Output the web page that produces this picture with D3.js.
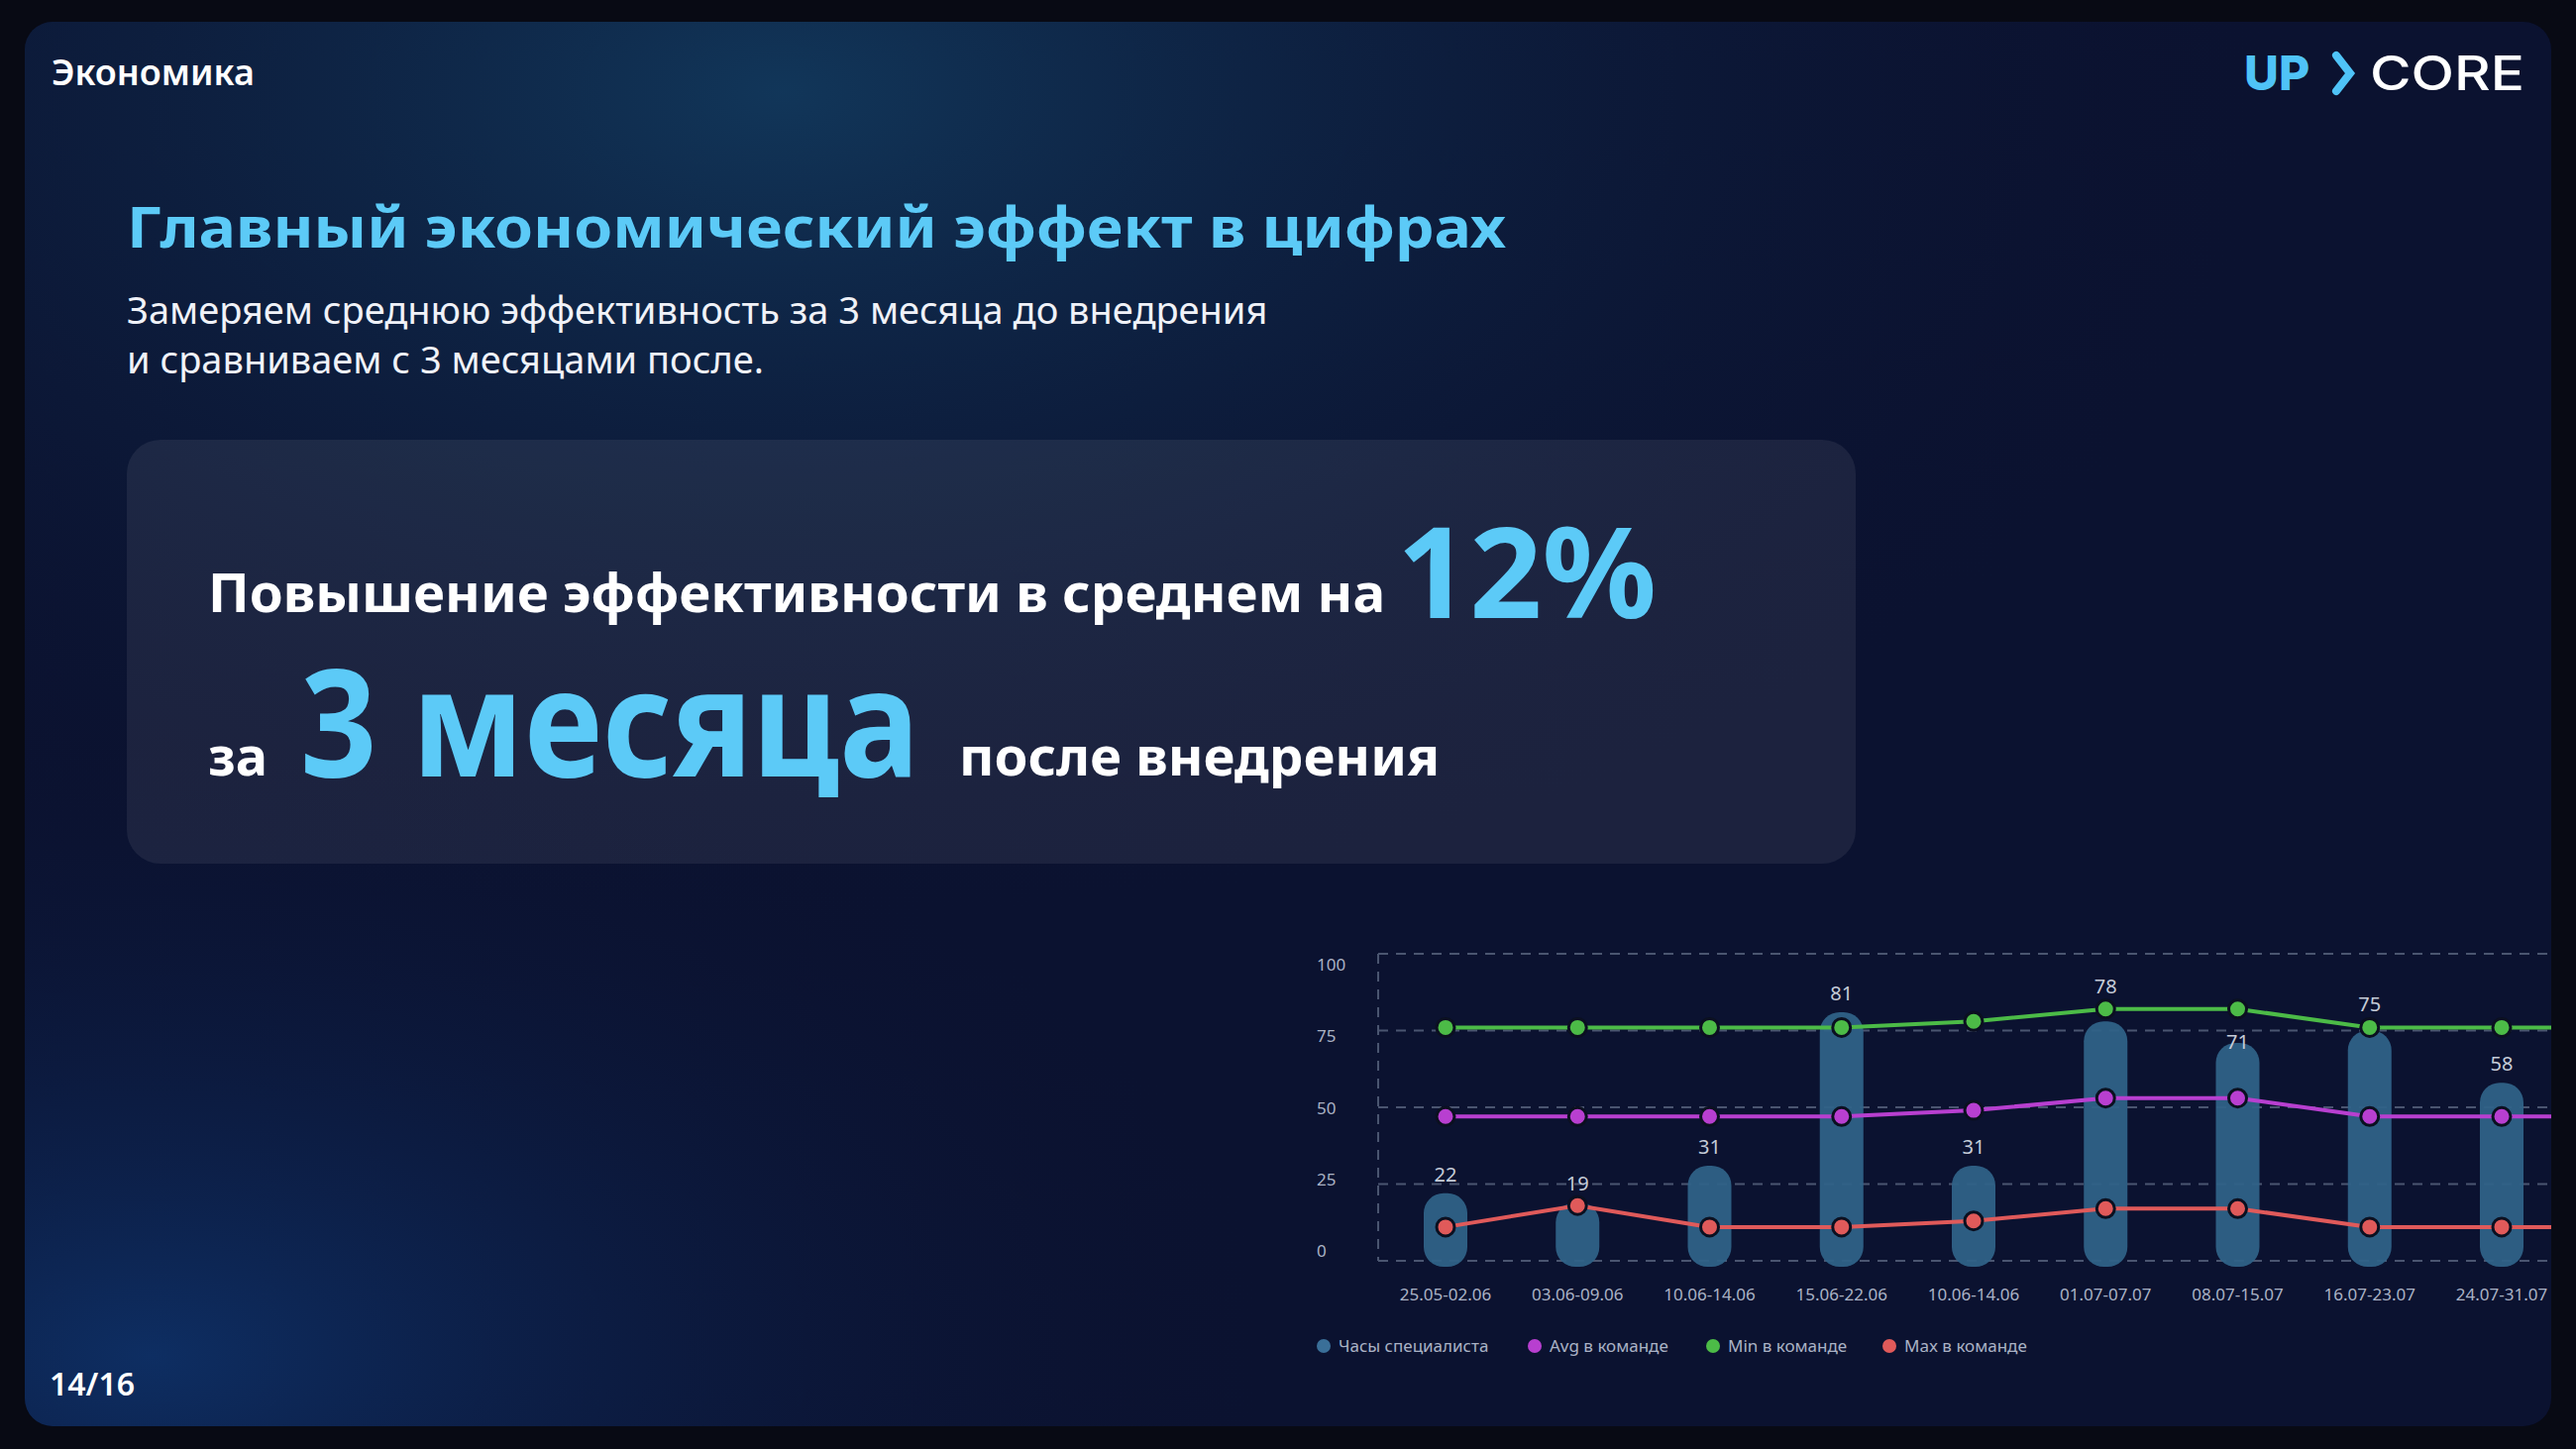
<!DOCTYPE html>
<html><head><meta charset="utf-8">
<script src="https://cdn.jsdelivr.net/npm/d3@7"></script>
<style>html,body{margin:0;background:#080a14;overflow:hidden}svg{display:block}</style>
</head><body>
<svg id="root" width="2600" height="1463"></svg>
<script>
const W = 2600, H = 1463;

const categories = ["25.05-02.06","03.06-09.06","10.06-14.06","15.06-22.06","10.06-14.06","01.07-07.07","08.07-15.07","16.07-23.07","24.07-31.07"];
const hours = [22, 19, 31, 81, 31, 78, 71, 75, 58];
const avgTeam = [47, 47, 47, 47, 49, 53, 53, 47, 47];
const minTeam = [76, 76, 76, 76, 78, 82, 82, 76, 76];
const maxTeam = [11, 18, 11, 11, 13, 17, 17, 11, 11];
const yTicks = [0, 25, 50, 75, 100];
const legendItems = [
  {name: "Часы специалиста", color: "#3a6f98"},
  {name: "Avg в команде", color: "#b83fd0"},
  {name: "Min в команде", color: "#4cbb47"},
  {name: "Max в команде", color: "#e05a5a"}
];

const svg = d3.select("#root");
const defs = svg.append("defs");

const g1 = defs.append("radialGradient").attr("id", "glowTop")
  .attr("cx", 0.3).attr("cy", 0.05).attr("r", 0.6);
g1.append("stop").attr("offset", 0).attr("stop-color", "#123a5e").attr("stop-opacity", 0.9);
g1.append("stop").attr("offset", 1).attr("stop-color", "#0b1230").attr("stop-opacity", 0);
const g2 = defs.append("radialGradient").attr("id", "glowBottom")
  .attr("cx", 0.05).attr("cy", 0.95).attr("r", 0.45);
g2.append("stop").attr("offset", 0).attr("stop-color", "#0f3a78").attr("stop-opacity", 0.7);
g2.append("stop").attr("offset", 1).attr("stop-color", "#0b1230").attr("stop-opacity", 0);
defs.append("clipPath").attr("id", "panelClip")
  .append("rect").attr("x", 25).attr("y", 22).attr("width", 2550).attr("height", 1418).attr("rx", 28);

// panel
svg.append("rect").attr("width", W).attr("height", H).attr("fill", "#080a14");
const panel = svg.append("g").attr("clip-path", "url(#panelClip)");
panel.append("rect").attr("x", 25).attr("y", 22).attr("width", 2550).attr("height", 1418).attr("fill", "#0b1230");
panel.append("rect").attr("x", 25).attr("y", 22).attr("width", 2550).attr("height", 1418).attr("fill", "url(#glowTop)");
panel.append("rect").attr("x", 25).attr("y", 22).attr("width", 2550).attr("height", 1418).attr("fill", "url(#glowBottom)");

const font = "'Noto Sans', 'Open Sans', sans-serif";

svg.append("text").attr("x", 52).attr("y", 86).text("Экономика")
  .attr("font-family", font).attr("font-size", 36).attr("font-weight", 600).attr("fill", "#fff");

// logo
const logo = svg.append("g").attr("font-family", "Inter, sans-serif").attr("font-size", 48);
logo.append("text").attr("x", 2265).attr("y", 91).text("UP").attr("font-weight", 800).attr("fill", "#4fc3f7");
logo.append("path").attr("d", "M2358,56 L2372,74 L2358,92").attr("fill", "none")
  .attr("stroke", "#4fc3f7").attr("stroke-width", 8).attr("stroke-linecap", "round");
logo.append("text").attr("x", 2392).attr("y", 91).text("CORE").attr("font-weight", 500).attr("fill", "#fff")
  .attr("textLength", 156).attr("lengthAdjust", "spacingAndGlyphs");

svg.append("text").attr("x", 128).attr("y", 250).text("Главный экономический эффект в цифрах")
  .attr("font-family", font).attr("font-size", 58).attr("font-weight", 700).attr("fill", "#5ccaf7")
  .attr("textLength", 1392).attr("lengthAdjust", "spacingAndGlyphs");
["Замеряем среднюю эффективность за 3 месяца до внедрения", "и сравниваем с 3 месяцами после."].forEach((t, i) => {
  svg.append("text").attr("x", 128).attr("y", 327 + i * 50).text(t)
    .attr("font-family", font).attr("font-size", 38).attr("fill", "#f0f2f8");
});

// card
svg.append("rect").attr("x", 128).attr("y", 444).attr("width", 1745).attr("height", 428).attr("rx", 34)
  .attr("fill", "#ffffff").attr("fill-opacity", 0.07);
const card = svg.append("g").attr("font-family", font).attr("font-weight", 700);
card.append("text").attr("x", 210).attr("y", 618).text("Повышение эффективности в среднем на")
  .attr("font-size", 54).attr("fill", "#fff").attr("textLength", 1188).attr("lengthAdjust", "spacingAndGlyphs");
card.append("text").attr("x", 1410).attr("y", 624).text("12%")
  .attr("font-size", 128).attr("fill", "#5ccaf7").attr("textLength", 262).attr("lengthAdjust", "spacingAndGlyphs");
card.append("text").attr("x", 210).attr("y", 783).text("за").attr("font-size", 54).attr("fill", "#fff");
card.append("text").attr("x", 303).attr("y", 784).text("3 месяца")
  .attr("font-size", 150).attr("fill", "#5ccaf7").attr("textLength", 625).attr("lengthAdjust", "spacingAndGlyphs");
card.append("text").attr("x", 968).attr("y", 783).text("после внедрения")
  .attr("font-size", 54).attr("fill", "#fff").attr("textLength", 485).attr("lengthAdjust", "spacingAndGlyphs");

svg.append("text").attr("x", 50).attr("y", 1409).text("14/16")
  .attr("font-family", font).attr("font-size", 32).attr("font-weight", 600).attr("fill", "#fff");

// chart
const chart = svg.append("g").attr("clip-path", "url(#panelClip)").attr("font-family", font);
const x = d3.scalePoint().domain(d3.range(categories.length)).range([1459, 2525]);
const y = d3.scaleLinear().domain([0, 100]).range([1273, 963]);
const yLabel = d3.scaleLinear().domain([0, 100]).range([1269, 980]);

chart.selectAll(".grid").data(yTicks).join("line")
  .attr("x1", 1391).attr("x2", 2600).attr("y1", d => y(d)).attr("y2", d => y(d))
  .attr("stroke", "#4a5570").attr("stroke-width", 2).attr("stroke-dasharray", "10,8");
chart.append("line").attr("x1", 1391).attr("x2", 1391).attr("y1", y(100)).attr("y2", y(0))
  .attr("stroke", "#4a5570").attr("stroke-width", 2).attr("stroke-dasharray", "10,8");
chart.selectAll(".ytick").data(yTicks).join("text")
  .attr("x", 1329).attr("y", d => yLabel(d)).text(d => d)
  .attr("font-size", 17).attr("fill", "#aab2c5");

chart.selectAll(".bar").data(hours).join("rect")
  .attr("x", (d, i) => x(i) - 22).attr("width", 44)
  .attr("y", d => y(d)).attr("height", d => y(0) + 6 - y(d))
  .attr("rx", 20).attr("fill", "#2f6287").attr("fill-opacity", 0.95);

// value labels, nudged off the green dots when they collide
chart.selectAll(".barLabel").data(hours).join("text")
  .attr("x", (d, i) => x(i))
  .attr("y", (d, i) => {
    const ly = y(d) - 12, gy = y(minTeam[i]);
    if (Math.abs(ly - 7 - gy) < 22) return d < minTeam[i] - 8 ? gy + 40 : gy - 16;
    return ly;
  })
  .text(d => d)
  .attr("text-anchor", "middle").attr("font-size", 20).attr("fill", "#c5ccd8");

const line = d3.line().x((d, i) => x(i)).y(d => y(d));
[[minTeam, "#4cbb47"], [avgTeam, "#b83fd0"], [maxTeam, "#e05a5a"]].forEach(([vals, c]) => {
  chart.append("path").attr("d", line(vals)).attr("fill", "none").attr("stroke", c).attr("stroke-width", 4);
  chart.append("line").attr("x1", x(vals.length - 1)).attr("x2", 2600)
    .attr("y1", y(vals[vals.length - 1])).attr("y2", y(vals[vals.length - 1]))
    .attr("stroke", c).attr("stroke-width", 4);
  chart.selectAll(null).data(vals).join("circle")
    .attr("cx", (d, i) => x(i)).attr("cy", d => y(d)).attr("r", 9)
    .attr("fill", c).attr("stroke", "#0b1020").attr("stroke-width", 3);
});

chart.selectAll(".xtick").data(categories).join("text")
  .attr("x", (d, i) => x(i)).attr("y", 1313).text(d => d)
  .attr("text-anchor", "middle").attr("font-size", 17).attr("fill", "#aab2c5");

const legendX = [1336, 1549, 1729, 1907];
legendItems.forEach((it, i) => {
  chart.append("circle").attr("cx", legendX[i]).attr("cy", 1359).attr("r", 7).attr("fill", it.color);
  chart.append("text").attr("x", legendX[i] + 15).attr("y", 1365).text(it.name)
    .attr("font-size", 17).attr("fill", "#aab2c5");
});
</script>
</body></html>
